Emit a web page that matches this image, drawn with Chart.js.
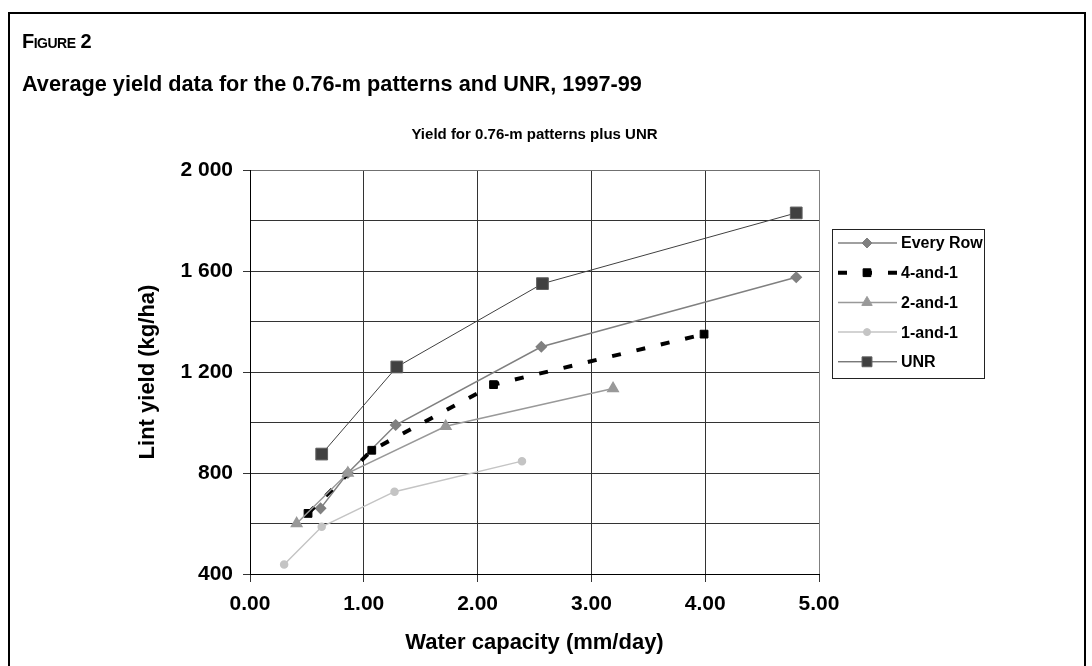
<!DOCTYPE html>
<html>
<head>
<meta charset="utf-8">
<script src="https://cdn.jsdelivr.net/npm/chart.js@4"></script>
<style>
  html, body { margin: 0; padding: 0; background: #fff; }
  body { width: 1092px; height: 666px; position: relative; overflow: hidden; font-family: 'Liberation Sans', Arial, sans-serif; }
  #frame { position: absolute; left: 8px; top: 12px; width: 1078px; height: 700px; border: 2px solid #000; box-sizing: border-box; }
  #fig { position: absolute; left: 22px; top: 30px; font-weight: bold; font-size: 20px; font-variant: small-caps; letter-spacing: -0.5px; }
  #head { position: absolute; left: 22px; top: 71px; font-weight: bold; font-size: 21.7px; }
  #wrap { position: absolute; left: 0; top: 0; width: 1092px; height: 666px; }
</style>
</head>
<body>
<div id="wrap"><canvas id="yield-chart" width="1092" height="666"></canvas></div>
<div id="frame"></div>
<div id="fig">Figure 2</div>
<div id="head">Average yield data for the 0.76-m patterns and UNR, 1997-99</div>
<script>
// values
const everyRowX = [0.62, 0.86, 1.28, 2.56, 4.80]
const everyRowY = [660, 800, 990, 1300, 1575]
const fourAndOneX = [0.51, 1.07, 2.14, 3.99]
const fourAndOneY = [640, 890, 1150, 1350]
const twoAndOneX = [0.41, 0.86, 1.72, 3.19]
const twoAndOneY = [600, 800, 985, 1135]
const oneAndOneX = [0.30, 0.63, 1.27, 2.39]
const oneAndOneY = [438, 587, 726, 847]
const unrX = [0.63, 1.29, 2.57, 4.80]
const unrY = [875, 1220, 1550, 1830]

const seriesNames = ['Every Row', '4-and-1', '2-and-1', '1-and-1', 'UNR']
const yTickLabels = { 400: '400', 800: '800', 1200: '1 200', 1600: '1 600', 2000: '2 000' }

const FONT = "'Liberation Sans', Arial, sans-serif"

const toPoints = (xs, ys) => xs.map((x, i) => ({ x: x, y: ys[i] }))

const datasets = [
  {
    label: seriesNames[0],
    data: toPoints(everyRowX, everyRowY),
    borderColor: '#808080',
    backgroundColor: '#808080',
    borderWidth: 1.5,
    pointStyle: 'rectRot',
    pointRadius: 5,
    order: 5,
  },
  {
    label: seriesNames[1],
    data: toPoints(fourAndOneX, fourAndOneY),
    borderColor: '#000000',
    backgroundColor: '#000000',
    borderWidth: 4,
    borderDash: [9, 16],
    pointStyle: 'rect',
    pointRadius: 5.5,
    pointBorderWidth: 1,
    order: 4,
  },
  {
    label: seriesNames[2],
    data: toPoints(twoAndOneX, twoAndOneY),
    borderColor: '#999999',
    backgroundColor: '#999999',
    borderWidth: 1.5,
    pointStyle: 'triangle',
    pointRadius: 6,
    order: 3,
  },
  {
    label: seriesNames[3],
    data: toPoints(oneAndOneX, oneAndOneY),
    borderColor: '#c4c4c4',
    backgroundColor: '#c4c4c4',
    borderWidth: 1.5,
    pointStyle: 'circle',
    pointRadius: 3.5,
    order: 2,
  },
  {
    label: seriesNames[4],
    data: toPoints(unrX, unrY),
    borderColor: '#404040',
    backgroundColor: '#404040',
    borderWidth: 1,
    pointStyle: 'rect',
    pointRadius: 8.3,
    pointBorderColor: '#606060',
    order: 1,
  },
]

// legend in a framed box with a line + marker sample, like the original
const boxLegend = {
  id: 'boxLegend',
  afterDraw(chart) {
    const ctx = chart.ctx
    const left = 832, top = 229, right = 984, bottom = 378
    ctx.save()
    ctx.strokeStyle = '#222'
    ctx.lineWidth = 1
    ctx.strokeRect(left + 0.5, top + 0.5, right - left, bottom - top)
    chart.data.datasets.forEach((ds, i) => {
      const y = 243 + i * 29.7
      ctx.save()
      ctx.strokeStyle = ds.borderColor
      ctx.lineWidth = ds.borderWidth
      ctx.setLineDash(ds.borderDash || [])
      ctx.beginPath()
      ctx.moveTo(838, y)
      ctx.lineTo(897, y)
      ctx.stroke()
      ctx.restore()
      ctx.fillStyle = ds.backgroundColor
      ctx.strokeStyle = ds.pointBorderColor || ds.borderColor
      ctx.lineWidth = 1
      Chart.helpers.drawPoint(ctx, { pointStyle: ds.pointStyle, radius: Math.min(ds.pointRadius, 7), rotation: 0, borderWidth: 1 }, 867, y)
      ctx.fillStyle = '#000'
      ctx.font = 'bold 16px ' + FONT
      ctx.textBaseline = 'middle'
      ctx.fillText(ds.label, 901, y + 1)
    })
    ctx.restore()
  },
}

new Chart(document.getElementById('yield-chart').getContext('2d'), {
  type: 'line',
  data: { datasets: datasets },
  plugins: [boxLegend],
  options: {
    responsive: false,
    animation: false,
    layout: { padding: { left: 0, right: 273, top: 0, bottom: 0 } },
    plugins: {
      legend: { display: false },
      tooltip: { enabled: false },
      title: {
        display: true,
        fullSize: false,
        text: 'Yield for 0.76-m patterns plus UNR',
        color: '#000',
        font: { family: FONT, size: 15, weight: 'bold', lineHeight: 1.2 },
        padding: { top: 126, bottom: 26 },
      },
    },
    scales: {
      x: {
        type: 'linear',
        min: 0,
        max: 5,
        afterFit: (scale) => { scale.height = 92 },
        border: { color: '#000', width: 1 },
        grid: {
          color: (c) => (c.tick && c.tick.value === 5 ? '#808080' : '#333'),
          tickColor: '#333',
          tickLength: 8,
        },
        ticks: {
          stepSize: 1,
          padding: 10,
          color: '#000',
          font: { family: FONT, size: 21, weight: 'bold' },
          callback: (v) => v.toFixed(2),
        },
        title: {
          display: true,
          text: 'Water capacity (mm/day)',
          color: '#000',
          font: { family: FONT, size: 22, weight: 'bold', lineHeight: 1.2 },
          padding: { top: 0, bottom: 10 },
        },
      },
      y: {
        min: 400,
        max: 2000,
        afterFit: (scale) => { scale.width = 250 },
        border: { color: '#000', width: 1 },
        grid: {
          color: (c) => (c.tick && c.tick.value === 2000 ? '#707070' : '#333'),
          tickColor: (c) => (c.tick && yTickLabels[c.tick.value] ? '#333' : 'rgba(0,0,0,0)'),
          tickLength: 7,
        },
        ticks: {
          stepSize: 200,
          padding: 10,
          color: '#000',
          font: { family: FONT, size: 21, weight: 'bold' },
          callback: (v) => yTickLabels[v] || '',
        },
        title: {
          display: true,
          text: 'Lint yield (kg/ha)',
          color: '#000',
          font: { family: FONT, size: 22, weight: 'bold', lineHeight: 1.2 },
          padding: { top: 135, bottom: 0 },
        },
      },
    },
  },
})
</script>
</body>
</html>
